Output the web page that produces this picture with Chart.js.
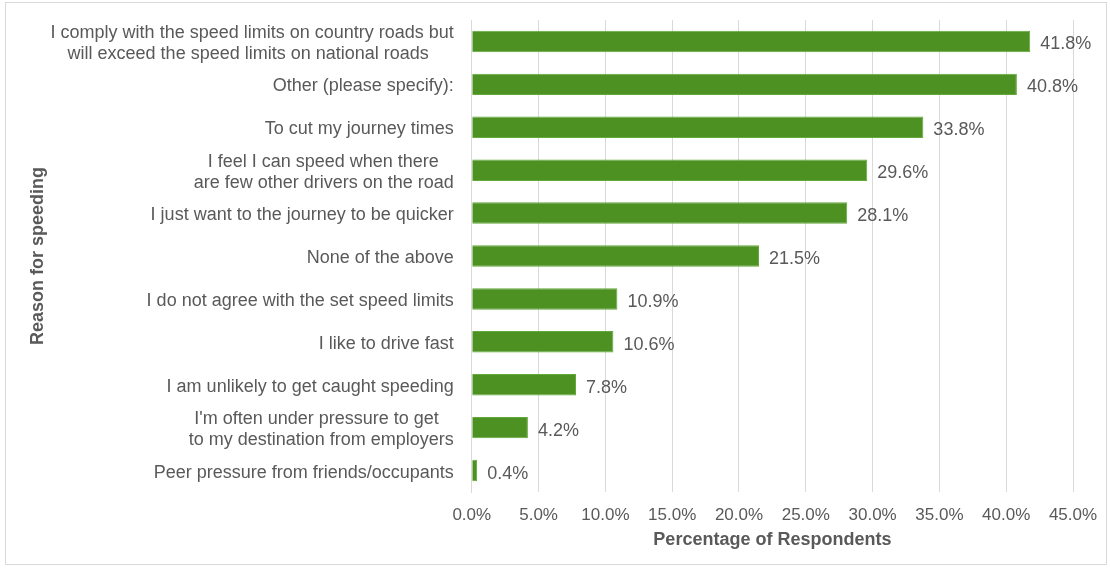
<!DOCTYPE html>
<html>
<head>
<meta charset="utf-8">
<script src="https://cdn.jsdelivr.net/npm/chart.js@4/dist/chart.umd.min.js"></script>
<style>
  html, body { margin: 0; padding: 0; background: #fff; }
  #frame {
    position: absolute; left: 5px; top: 2px;
    width: 1102px; height: 563px;
    border: 1px solid #d9d9d9; box-sizing: border-box;
  }
  #chart { display: block; }
</style>
</head>
<body>
<div id="frame"><canvas id="chart" width="1100" height="561"></canvas></div>
<script>
// survey answers, top to bottom
const reasons = [
  ['I comply with the speed limits on country roads but', 'will exceed the speed limits on national roads     '],
  'Other (please specify):',
  'To cut my journey times',
  ['I feel I can speed when there   ', 'are few other drivers on the road'],
  'I just want to the journey to be quicker',
  'None of the above',
  'I do not agree with the set speed limits',
  'I like to drive fast',
  'I am unlikely to get caught speeding',
  ["I'm often under pressure to get   ", 'to my destination from employers'],
  'Peer pressure from friends/occupants'
];
const percentages = [41.8, 40.8, 33.8, 29.6, 28.1, 21.5, 10.9, 10.6, 7.8, 4.2, 0.4];
const axisMax = 45;
const axisStep = 5;

const textGrey = '#595959';
const fontFamily = '"Liberation Sans", Arial, sans-serif';

// prints the percentage just past the end of each bar
const valueLabels = {
  id: 'valueLabels',
  afterDatasetsDraw(chart) {
    const ctx = chart.ctx;
    const meta = chart.getDatasetMeta(0);
    ctx.save();
    ctx.font = '18px ' + fontFamily;
    ctx.fillStyle = textGrey;
    ctx.textAlign = 'left';
    ctx.textBaseline = 'middle';
    meta.data.forEach((bar, i) => {
      ctx.fillText(percentages[i].toFixed(1) + '%', bar.x + 10, bar.y + 3);
    });
    ctx.restore();
  }
};

// let the outer labels overhang the plot instead of shrinking it,
// and drop the spare gap left between the axis title and the tick labels
function tightAxis(scale) {
  scale.paddingTop = 0;
  scale.paddingBottom = 0;
  scale.paddingLeft = 0;
  scale.paddingRight = 0;
  const gap = scale.options.ticks.padding;
  if (scale.isHorizontal()) {
    scale.height -= gap;
  } else {
    scale.width -= gap;
  }
}

new Chart(document.getElementById('chart'), {
  type: 'bar',
  data: {
    labels: reasons,
    datasets: [{
      data: percentages,
      backgroundColor: '#4e9123',
      borderColor: '#62a83a',
      borderWidth: 1,
      barPercentage: 0.5,
      categoryPercentage: 1.0
    }]
  },
  options: {
    indexAxis: 'y',
    responsive: false,
    animation: false,
    layout: { padding: { top: 17, right: 33, bottom: 13, left: 19 } },
    plugins: {
      legend: { display: false },
      tooltip: { enabled: false }
    },
    scales: {
      x: {
        min: 0,
        max: axisMax,
        afterFit: tightAxis,
        ticks: {
          stepSize: axisStep,
          color: textGrey,
          font: { family: fontFamily, size: 17 },
          padding: 13,
          callback: v => v.toFixed(1) + '%'
        },
        grid: { color: '#d9d9d9', drawTicks: false },
        border: { display: false },
        title: {
          display: true,
          text: 'Percentage of Respondents',
          color: textGrey,
          font: { family: fontFamily, size: 18, weight: 'bold' },
          padding: { top: 4, bottom: 0 }
        }
      },
      y: {
        afterFit: tightAxis,
        ticks: {
          autoSkip: false,
          color: textGrey,
          font: { family: fontFamily, size: 18, lineHeight: 1.15 },
          padding: 18,
          labelOffset: 2
        },
        grid: { display: false, drawTicks: false },
        border: { display: true, color: '#d9d9d9' },
        title: {
          display: true,
          text: 'Reason for speeding',
          color: textGrey,
          font: { family: fontFamily, size: 18, weight: 'bold' },
          padding: { top: 2, bottom: 2 }
        }
      }
    }
  },
  plugins: [valueLabels]
});
</script>
</body>
</html>
